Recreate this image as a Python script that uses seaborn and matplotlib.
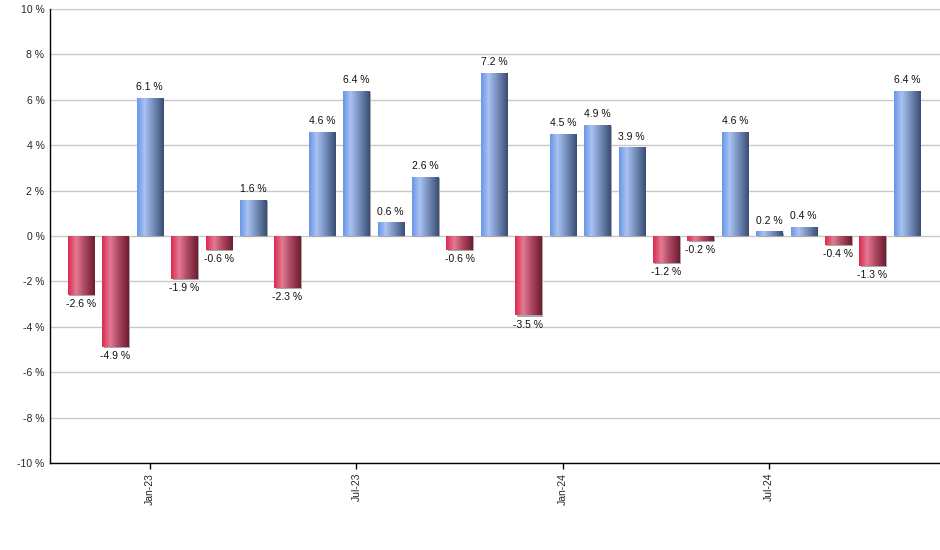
import numpy as np
import pandas as pd
import matplotlib
matplotlib.use("Agg")
import matplotlib.pyplot as plt
import seaborn as sns
from matplotlib.colors import LinearSegmentedColormap
from matplotlib.patches import Rectangle
from matplotlib.ticker import FuncFormatter, MultipleLocator

months = ["Nov-22", "Dec-22", "Jan-23", "Feb-23", "Mar-23", "Apr-23", "May-23",
          "Jun-23", "Jul-23", "Aug-23", "Sep-23", "Oct-23", "Nov-23", "Dec-23",
          "Jan-24", "Feb-24", "Mar-24", "Apr-24", "May-24", "Jun-24", "Jul-24",
          "Aug-24", "Sep-24", "Oct-24", "Nov-24"]
returns = [-2.6, -4.9, 6.1, -1.9, -0.6, 1.6, -2.3, 4.6, 6.4, 0.6, 2.6, -0.6, 7.2,
           -3.5, 4.5, 4.9, 3.9, -1.2, -0.2, 4.6, 0.2, 0.4, -0.4, -1.3, 6.4]
shown_ticks = ["Jan-23", "Jul-23", "Jan-24", "Jul-24"]

df = pd.DataFrame({"month": months, "ret": returns})

sns.set_style("white")
plt.rcParams["font.family"] = ["Liberation Sans", "DejaVu Sans"]

fig = plt.figure(figsize=(9.4, 5.5), dpi=100)
ax = fig.add_axes([50 / 940, 1 - 463 / 550, 890 / 940, 454 / 550])

sns.barplot(data=df, x="month", y="ret", ax=ax, width=0.76, color="#6f95e0",
            saturation=1, zorder=3)

blue_cmap = LinearSegmentedColormap.from_list(
    "b", [(0, "#6b95e8"), (0.28, "#a9c3f2"), (0.55, "#7f98c6"), (1, "#3a4e74")])
red_cmap = LinearSegmentedColormap.from_list(
    "r", [(0, "#dc2a50"), (0.3, "#e27a92"), (0.6, "#b04a64"), (1, "#6e1d30")])
grad = np.linspace(0, 1, 64).reshape(1, -1)

for patch, val in zip(ax.patches, returns):
    x0, y0 = patch.get_x(), patch.get_y()
    w, h = patch.get_width(), patch.get_height()
    ylo, yhi = min(y0, y0 + h), max(y0, y0 + h)
    # shadow
    sh = Rectangle((x0 + 0.04, ylo - 0.05), w, yhi - ylo, facecolor="#a8a8a8",
                   edgecolor="none", zorder=2)
    ax.add_patch(sh)
    patch.set_facecolor("none")
    patch.set_edgecolor("none")
    im = ax.imshow(grad, cmap=blue_cmap if val >= 0 else red_cmap, aspect="auto",
                   extent=(x0, x0 + w, ylo, yhi), zorder=3, interpolation="bilinear")
    im.set_clip_path(patch)
    if val >= 0:
        ax.annotate(f"{val:.1f} %", (x0 + w / 2, yhi), xytext=(0, 4),
                    textcoords="offset points", ha="center", va="bottom",
                    fontsize=7.5, color="#111111", zorder=5)
    else:
        ax.annotate(f"{val:.1f} %", (x0 + w / 2, ylo), xytext=(0, -3),
                    textcoords="offset points", ha="center", va="top",
                    fontsize=7.5, color="#111111", zorder=5)

ax.set_xlim(-0.9, len(months) - 1 + 0.96)
ax.set_ylim(-10, 10)
ax.yaxis.set_major_locator(MultipleLocator(2))
ax.yaxis.set_major_formatter(FuncFormatter(lambda v, p: f"{v:.0f} %"))
ax.grid(axis="y", color="#c8c8c8", linewidth=1, zorder=0)
ax.set_axisbelow(True)

tick_pos = [months.index(m) for m in shown_ticks]
ax.set_xticks(tick_pos)
ax.set_xticklabels(shown_ticks, rotation=90, fontsize=7.5)
ax.tick_params(axis="y", labelsize=7.5, length=0, pad=4)
ax.tick_params(axis="x", length=4, width=1, color="black", bottom=True, pad=3)
ax.set_xlabel("")
ax.set_ylabel("")

for s in ["top", "right"]:
    ax.spines[s].set_visible(False)
for s in ["left", "bottom"]:
    ax.spines[s].set_color("black")
    ax.spines[s].set_linewidth(1)

fig.savefig("out.png", dpi=100)
